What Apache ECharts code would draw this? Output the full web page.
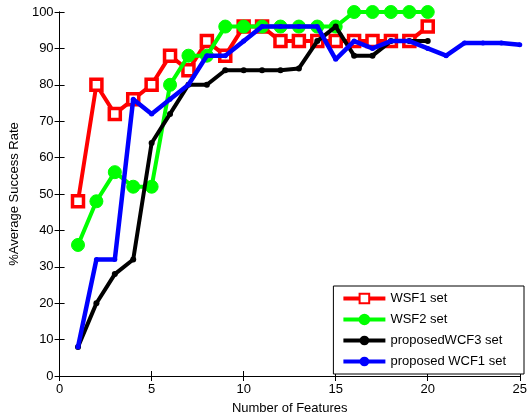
<!DOCTYPE html>
<html>
<head>
<meta charset="utf-8">
<script src="https://cdn.jsdelivr.net/npm/echarts@6/dist/echarts.min.js"></script>
<style>
  html, body { margin: 0; padding: 0; background: #fff; }
  #chart { width: 530px; height: 420px; }
</style>
</head>
<body>
<div id="chart"></div>
<script>
// Number of features used for each run
const featuresA = [1, 2, 3, 4, 5, 6, 7, 8, 9, 10, 11, 12, 13, 14, 15, 16, 17, 18, 19, 20];
const featuresB = [1, 2, 3, 4, 5, 6, 7, 8, 9, 10, 11, 12, 13, 14, 15, 16, 17, 18, 19, 20, 21, 22, 23, 24, 25];

// Average success rate (%) per feature set
const wsf1 = [48, 80, 72, 76, 80, 88, 84, 92, 88, 96, 96, 92, 92, 92, 92, 92, 92, 92, 92, 96];
const wsf2 = [36, 48, 56, 52, 52, 80, 88, 88, 96, 96, 96, 96, 96, 96, 96, 100, 100, 100, 100, 100];
const wcf3 = [8, 20, 28, 32, 64, 72, 80, 80, 84, 84, 84, 84, 84.5, 92, 96, 88, 88, 92, 92, 92];
const wcf1 = [8, 32, 32, 76, 72, 76, 80, 88, 88, 92, 96, 96, 96, 96, 87, 92, 90, 92, 92, 90, 88, 91.5, 91.5, 91.5, 91];

const seriesNames = ['WSF1 set', 'WSF2 set', 'proposedWCF3 set', 'proposed WCF1 set'];
const xTicks = [0, 5, 10, 15, 20, 25];
const yTicks = [0, 10, 20, 30, 40, 50, 60, 70, 80, 90, 100];

const pairs = (xs, ys) => xs.map((x, i) => [x, ys[i]]);
const FONT = 'Liberation Sans';

const chart = echarts.init(document.getElementById('chart'), null, { renderer: 'canvas' });

const boxAxis = {
  axisLine: { show: true, lineStyle: { color: '#000', width: 1 } },
  axisTick: { show: true, inside: true, length: 5, lineStyle: { color: '#000' } },
  splitLine: { show: false }
};

chart.setOption({
  animation: false,
  backgroundColor: '#fff',
  textStyle: { fontFamily: FONT },
  grid: { left: 59, right: 6, top: 12, bottom: 41, containLabel: false },
  xAxis: [
    Object.assign({
      type: 'value', min: xTicks[0], max: xTicks[xTicks.length - 1], interval: 5,
      name: 'Number of Features', nameLocation: 'middle', nameGap: 26,
      nameTextStyle: { color: '#000', fontSize: 13, fontFamily: FONT },
      axisLabel: { color: '#000', fontSize: 13, margin: 7, fontFamily: FONT }
    }, boxAxis),
    Object.assign({
      type: 'value', position: 'top', min: xTicks[0], max: xTicks[xTicks.length - 1], interval: 5,
      axisLabel: { show: false }
    }, boxAxis)
  ],
  yAxis: [
    Object.assign({
      type: 'value', min: yTicks[0], max: yTicks[yTicks.length - 1], interval: 10,
      name: '%Average Success Rate', nameLocation: 'middle', nameGap: 38,
      nameTextStyle: { color: '#000', fontSize: 13, fontFamily: FONT },
      axisLabel: { color: '#000', fontSize: 13, margin: 6, fontFamily: FONT }
    }, boxAxis),
    Object.assign({
      type: 'value', position: 'right', min: yTicks[0], max: yTicks[yTicks.length - 1], interval: 10,
      axisLabel: { show: false }
    }, boxAxis)
  ],
  legend: {
    orient: 'vertical',
    right: 6,
    bottom: 46,
    backgroundColor: '#fff',
    borderColor: '#000',
    borderWidth: 1,
    borderRadius: 0,
    padding: [6, 18, 6, 8],
    itemWidth: 42,
    itemHeight: 12,
    itemGap: 8,
    textStyle: { color: '#000', fontSize: 13, fontFamily: FONT },
    lineStyle: { width: 4 },
    data: seriesNames
  },
  series: [
    {
      name: seriesNames[0], type: 'line', clip: false, z: 2,
      data: pairs(featuresA, wsf1),
      symbol: 'rect', symbolSize: 11,
      lineStyle: { color: '#ff0000', width: 4 },
      itemStyle: { color: '#fff', borderColor: '#ff0000', borderWidth: 3.5 }
    },
    {
      name: seriesNames[1], type: 'line', clip: false, z: 3,
      data: pairs(featuresA, wsf2),
      symbol: 'circle', symbolSize: 13,
      lineStyle: { color: '#00ff00', width: 4 },
      itemStyle: { color: '#00ff00', borderColor: '#00ff00', borderWidth: 1 }
    },
    {
      name: seriesNames[2], type: 'line', clip: false, z: 4,
      data: pairs(featuresA, wcf3),
      symbol: 'circle', symbolSize: 6,
      lineStyle: { color: '#000000', width: 4 },
      itemStyle: { color: '#000000' }
    },
    {
      name: seriesNames[3], type: 'line', clip: false, z: 5,
      data: pairs(featuresB, wcf1),
      symbol: 'circle', symbolSize: 5,
      lineStyle: { color: '#0000ff', width: 4.5 },
      itemStyle: { color: '#0000ff' }
    }
  ]
});
</script>
</body>
</html>
